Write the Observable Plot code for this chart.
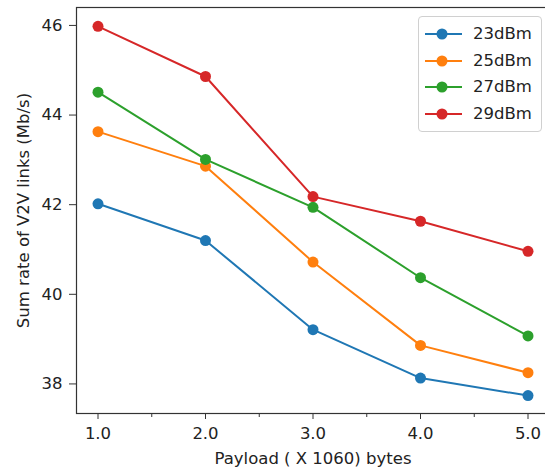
<!DOCTYPE html>
<html>
<head>
<meta charset="utf-8">
<script src="https://cdn.jsdelivr.net/npm/d3@7"></script>
<script src="https://cdn.jsdelivr.net/npm/@observablehq/plot@0.6"></script>
<style>
  html, body { margin: 0; padding: 0; background: #fff; }
  #wrap { position: relative; width: 545px; height: 472px; overflow: hidden; }
  #legend { position: absolute; left: 418px; top: 16px; width: 124px; height: 116px;
    border: 1px solid #d0d0d0; border-radius: 4px; background: rgba(255,255,255,0.85);
    font-family: "DejaVu Sans", sans-serif; font-size: 16.5px; color: #222; box-sizing: border-box; }
  .entry { position: absolute; left: 0; height: 20px; width: 122px; }
  .entry svg { position: absolute; left: 5px; top: 0; }
  .entry span { position: absolute; left: 54px; top: 0px; line-height: 20px; }
</style>
</head>
<body>
<div id="wrap"><div id="legend"></div></div>
<script>
const payload = [1, 2, 3, 4, 5];
const seriesNames = ["23dBm", "25dBm", "27dBm", "29dBm"];
const seriesColors = ["#1f77b4", "#ff7f0e", "#2ca02c", "#d62728"];
const rate23 = [42.02, 41.20, 39.21, 38.13, 37.74];
const rate25 = [43.63, 42.86, 40.72, 38.86, 38.25];
const rate27 = [44.51, 43.01, 41.94, 40.37, 39.07];
const rate29 = [45.98, 44.86, 42.18, 41.63, 40.96];
const xTicks = [1, 2, 3, 4, 5];
const xMinorTicks = [1.5, 2.5, 3.5, 4.5];
const yTicks = [38, 40, 42, 44, 46];
const xLabel = "Payload ( X 1060) bytes";
const yLabel = "Sum rate of V2V links (Mb/s)";

const allSeries = [rate23, rate25, rate27, rate29];
const data = seriesNames.flatMap((name, i) =>
  payload.map((p, j) => ({series: name, payload: p, rate: allSeries[i][j]})));

const chart = Plot.plot({
  width: 545,
  height: 472,
  marginLeft: 76,
  marginRight: -4,
  marginTop: 7,
  marginBottom: 59,
  style: {fontFamily: "DejaVu Sans, sans-serif", fontSize: "16.5px", color: "#222", background: "transparent"},
  x: {domain: [0.8, 5.2]},
  y: {domain: [37.34, 46.40]},
  color: {domain: seriesNames, range: seriesColors},
  marks: [
    Plot.axisX({ticks: xMinorTicks, tickSize: 4, tickFormat: () => "", label: null, stroke: "#333"}),
    Plot.axisX({ticks: xTicks, tickSize: 6, tickPadding: 8, tickFormat: d => d.toFixed(1),
      label: xLabel, labelAnchor: "center", labelOffset: 50, labelArrow: false, stroke: "#333"}),
    Plot.axisY({ticks: yTicks, tickSize: 7, tickPadding: 7, tickFormat: d => String(d),
      label: yLabel, labelAnchor: "center", labelOffset: 59, labelArrow: false, stroke: "#333"}),
    Plot.line(data, {x: "payload", y: "rate", z: "series", stroke: "series", strokeWidth: 2}),
    Plot.dot(data, {x: "payload", y: "rate", fill: "series", r: 5.5}),
    Plot.frame({stroke: "#333", strokeWidth: 1.2})
  ]
});
const wrap = document.getElementById("wrap");
wrap.insertBefore(chart, wrap.firstChild);

const legend = document.getElementById("legend");
seriesNames.forEach((name, i) => {
  const e = document.createElement("div");
  e.className = "entry";
  e.style.top = (7 + i * 26.7) + "px";
  e.innerHTML = `<svg width="40" height="20"><line x1="1" y1="10" x2="38" y2="10" stroke="${seriesColors[i]}" stroke-width="2"/><circle cx="18" cy="10" r="5.5" fill="${seriesColors[i]}"/></svg><span>${name}</span>`;
  legend.appendChild(e);
});
</script>
</body>
</html>
